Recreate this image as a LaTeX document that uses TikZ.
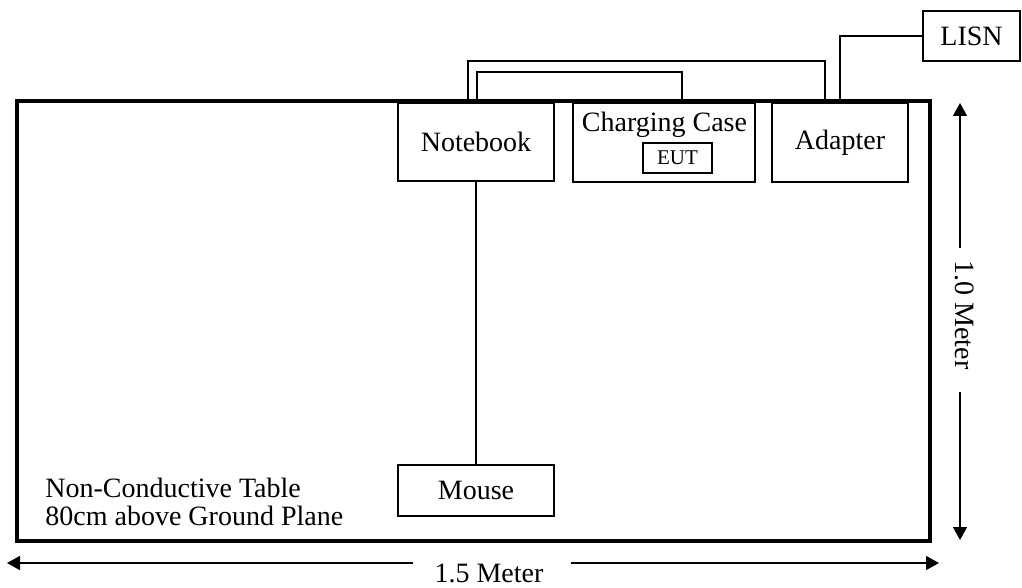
\documentclass[tikz,border=0pt]{standalone}
\usepackage{fontspec}
\setmainfont{Liberation Serif}
\usetikzlibrary{arrows.meta}
\begin{document}
\begin{tikzpicture}[x=0.5pt,y=-0.5pt,
  thinline/.style={line width=0.75pt},
  box/.style={draw,line width=0.75pt,inner sep=0pt,font=\fontsize{14}{14}\selectfont},
  txt/.style={inner sep=0pt,font=\fontsize{14}{14}\selectfont},
  tip/.style={-{Triangle[length=6.5pt,width=7pt]},line width=0.75pt}]
\useasboundingbox (0,0) rectangle (1022,588);
% table
\node[draw,line width=1.75pt,minimum width=456.5pt,minimum height=220pt,inner sep=0pt] (table) at (473.5,321) {};
% equipment
\node[box,minimum width=78pt,minimum height=39pt] (notebook) at (476,142) {Notebook};
\node[box,minimum width=91pt,minimum height=39.5pt] (cc) at (664,142.5) {};
\node[txt,anchor=base] (cclabel) at (664.5,132) {Charging Case};
\node[box,minimum width=34.5pt,minimum height=15pt,font=\fontsize{10.5}{10.5}\selectfont] (eut) at (677.5,158) {EUT};
\node[box,minimum width=68pt,minimum height=39.5pt] (adapter) at (840,142.5) {Adapter};
\node[box,minimum width=48.5pt,minimum height=25pt] (lisn) at (971.5,36) {LISN};
\node[box,minimum width=78pt,minimum height=25.5pt] (mouse) at (476,490.5) {Mouse};
% cables
\draw[thinline] ([xshift=-4pt]notebook.north) -- ++(0,-41) -| ([xshift=-7.5pt]adapter.north);
\draw[thinline] ([xshift=0.5pt]notebook.north) -- ++(0,-30) -| ([xshift=9pt]cc.north);
\draw[thinline] (adapter.north) |- (lisn.west);
\draw[thinline] (notebook.south) -- (mouse.north);
% table label
\node[txt,anchor=base west] (tl1) at (45,497) {Non-Conductive Table};
\node[txt,anchor=base west] (tl2) at (45,525) {80cm above Ground Plane};
% dimensions
\coordinate (hL) at (7,563);
\coordinate (hR) at (939,563);
\coordinate (hgL) at (413,563);
\coordinate (hgR) at (571,563);
\node[txt,anchor=base] (hlab) at (489,582) {1.5 Meter};
\draw[tip] (hgL) -- (hL);
\draw[tip] (hgR) -- (hR);
\coordinate (vT) at (960,103);
\coordinate (vB) at (960,540);
\coordinate (vgT) at (960,248);
\coordinate (vgB) at (960,392);
\node[txt,rotate=-90] (vlab) at (965,315) {1.0 Meter};
\draw[tip] (vgT) -- (vT);
\draw[tip] (vgB) -- (vB);
\end{tikzpicture}
\end{document}
